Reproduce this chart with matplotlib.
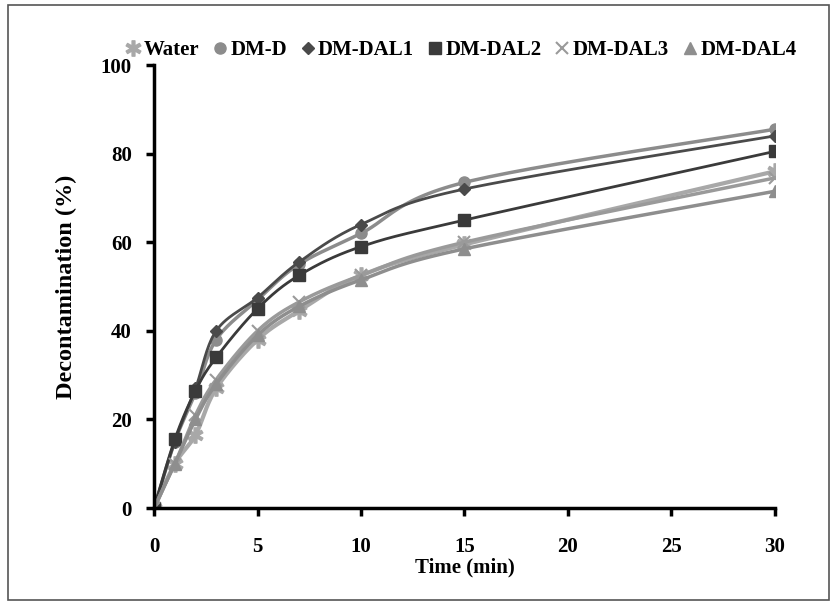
import numpy as np
import matplotlib
matplotlib.use("Agg")
import matplotlib.pyplot as plt
from matplotlib.lines import Line2D
from matplotlib.patches import Rectangle

# sampling times (min)
time = [0, 1, 2, 3, 5, 7, 10, 15, 30]

# decontamination (%)
water = [0, 10, 16.5, 27, 38, 44.5, 52.5, 59.5, 76]
dm_d = [0, 15, 26, 38, 47, 55, 62, 73.5, 85.5]
dm_dal1 = [0, 15, 27, 40, 47.5, 55.5, 64, 72, 84]
dm_dal2 = [0, 15.5, 26.5, 34, 45, 52.5, 59, 65, 80.5]
dm_dal3 = [0, 10, 21, 29, 40, 46.5, 52.5, 60, 74.5]
dm_dal4 = [0, 10, 20, 28, 39, 45.5, 51.5, 58.5, 71.5]

labels = ["Water", "DM-D", "DM-DAL1", "DM-DAL2", "DM-DAL3", "DM-DAL4"]
series = [water, dm_d, dm_dal1, dm_dal2, dm_dal3, dm_dal4]
markers = ["$\u2217$", "o", "D", "s", "x", "^"]
msizes = [11, 8, 6, 8, 9, 8]
colors = ["#a8a8a8", "#8c8c8c", "#4a4a4a", "#3a3a3a", "#9a9a9a", "#8e8e8e"]
widths = [3.0, 2.5, 2.0, 2.0, 2.5, 2.5]


def smooth(x, y, n=30):
    # Excel-like smoothed line (cubic bezier through points)
    x = np.asarray(x, float)
    y = np.asarray(y, float)
    px, py = [], []
    for i in range(len(x) - 1):
        x0, y0 = (x[i - 1], y[i - 1]) if i > 0 else (x[i], y[i])
        x3, y3 = (x[i + 2], y[i + 2]) if i + 2 < len(x) else (x[i + 1], y[i + 1])
        c1x = x[i] + (x[i + 1] - x0) / 6
        c1y = y[i] + (y[i + 1] - y0) / 6
        c2x = x[i + 1] - (x3 - x[i]) / 6
        c2y = y[i + 1] - (y3 - y[i]) / 6
        t = np.linspace(0, 1, n)
        a, b, c, d = (1 - t) ** 3, 3 * t * (1 - t) ** 2, 3 * t ** 2 * (1 - t), t ** 3
        px.extend(a * x[i] + b * c1x + c * c2x + d * x[i + 1])
        py.extend(a * y[i] + b * c1y + c * c2y + d * y[i + 1])
    return px, py


plt.rcParams["font.family"] = "Liberation Serif"
plt.rcParams["font.weight"] = "bold"

fig = plt.figure(figsize=(8.33, 6.02), dpi=100)
ax = fig.add_axes([0.185, 0.156, 0.745, 0.736])

handles = []
for ys, lab, m, ms, col, lw in zip(series, labels, markers, msizes, colors, widths):
    sx, sy = smooth(time, ys)
    ax.plot(sx, sy, color=col, lw=lw, solid_capstyle="round")
    ax.plot(time, ys, linestyle="none", marker=m, ms=ms, color=col,
            markeredgewidth=1.5 if m == "x" else 1)
    handles.append(Line2D([], [], linestyle="none", marker=m, ms=ms, color=col,
                          markeredgewidth=1.5 if m == "x" else 1, label=lab))

ax.set_xlim(0, 30)
ax.set_ylim(0, 100)
ax.set_xticks(range(0, 31, 5))
ax.set_yticks(range(0, 101, 20))
ax.spines["top"].set_visible(False)
ax.spines["right"].set_visible(False)
for s in ["left", "bottom"]:
    ax.spines[s].set_linewidth(2.5)
ax.tick_params(width=2.5, length=6, labelsize=15)
ax.tick_params(axis="x", pad=15)
ax.tick_params(axis="y", pad=10)
ax.set_xlabel("Time (min)", fontsize=15, fontweight="bold", labelpad=0)
ax.set_ylabel("Decontamination (%)", fontsize=17.5, fontweight="bold", labelpad=17)

fig.legend(handles=handles, loc="upper left", bbox_to_anchor=(0.127, 0.965),
           ncol=6, frameon=False, handlelength=0.8,
           handletextpad=0.1, columnspacing=0.6,
           prop={"weight": "bold", "size": 15})

fig.add_artist(Rectangle((0.01, 0.004), 0.985, 0.988, transform=fig.transFigure,
                         fill=False, edgecolor="#555555", lw=1.2))

fig.savefig("out.png", dpi=100)
